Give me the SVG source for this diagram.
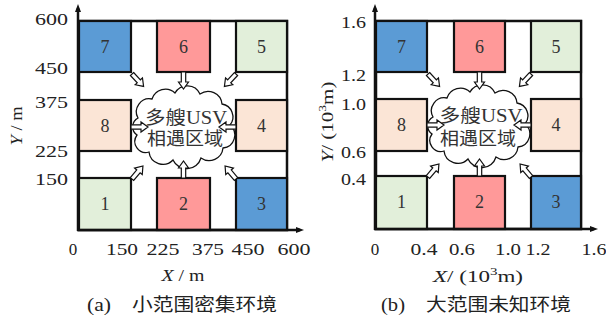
<svg xmlns="http://www.w3.org/2000/svg" xmlns:xlink="http://www.w3.org/1999/xlink" width="606" height="320" viewBox="0 0 606 320">
<style>
.bx{stroke:#111;stroke-width:2.2}
.blue{fill:#5b9bd5}.pink{fill:#ff9999}.green{fill:#e2efda}.peach{fill:#fbe5d6}
.num{font-family:"Liberation Serif","Times New Roman",serif;font-size:18px;fill:#333;text-anchor:middle}
.tk{font-family:"Liberation Serif","Times New Roman",serif;font-size:17px;fill:#222}
.r{text-anchor:end}.m{text-anchor:middle}
.cap{font-family:"Liberation Serif","Noto Sans CJK SC",serif;font-size:18px;fill:#222}
.ct{font-family:"Liberation Serif","Noto Sans CJK SC",serif;font-size:18px;fill:#333;text-anchor:middle}
.ax{stroke:#111;stroke-width:2.5;fill:none}
.fr{fill:none;stroke:#111;stroke-width:2.5}
.cl{fill:#fff;stroke:#111;stroke-width:1.3}
.ar{fill:#fff;stroke:#111;stroke-width:1.2}
</style>
<defs>
<path id="arr" d="M0,-2.2 H10 V-5 L17,0 L10,5 V2.2 H0 Z"/>
<path id="cloud" d="M-45,-8 A13,13 0 0 1 -31,-27 A14,14 0 0 1 -8,-33 A14,14 0 0 1 17,-32 A14,14 0 0 1 39,-22 A13,13 0 0 1 47,-1 A13,13 0 0 1 40,22 A14,14 0 0 1 18,32 A15,15 0 0 1 -10,34 A14,14 0 0 1 -34,26 A11,11 0 0 1 -46,9 A10,10 0 0 1 -45,-8 Z"/>
<marker id="ah" markerWidth="8" markerHeight="8" refX="4" refY="4" orient="auto" markerUnits="userSpaceOnUse">
<path d="M0,1 L8,4 L0,7 Z" fill="#111"/>
</marker>
</defs>

<!-- Panel (a) -->
<g id="panel-a">
<rect class="fr" x="79" y="21" width="208" height="209"/>
<g id="a-box7"><rect class="bx blue" x="79" y="21" width="52" height="51"/><text class="num" x="105" y="53">7</text></g>
<g id="a-box6"><rect class="bx pink" x="157" y="21" width="53" height="51"/><text class="num" x="183.5" y="53">6</text></g>
<g id="a-box5"><rect class="bx green" x="236" y="21" width="51" height="51"/><text class="num" x="261.5" y="53">5</text></g>
<g id="a-box8"><rect class="bx peach" x="79" y="100" width="52" height="51"/><text class="num" x="105" y="132">8</text></g>
<g id="a-box4"><rect class="bx peach" x="236" y="100" width="51" height="51"/><text class="num" x="261.5" y="132">4</text></g>
<g id="a-box1"><rect class="bx green" x="79" y="178" width="52" height="52"/><text class="num" x="105" y="210">1</text></g>
<g id="a-box2"><rect class="bx pink" x="157" y="178" width="53" height="52"/><text class="num" x="183.5" y="210">2</text></g>
<g id="a-box3"><rect class="bx blue" x="236" y="178" width="51" height="52"/><text class="num" x="261.5" y="210">3</text></g>
<g id="a-cloud">
<use xlink:href="#cloud" class="cl" transform="translate(183,126)"/>
<text class="ct" x="186" y="124" textLength="82" lengthAdjust="spacingAndGlyphs">多艘USV</text>
<text class="ct" x="185" y="145" textLength="76" lengthAdjust="spacingAndGlyphs">相遇区域</text>
</g>
<g id="a-axes">
<line class="ax" x1="78" y1="231" x2="78" y2="8" marker-end="url(#ah)"/>
<line class="ax" x1="77" y1="230" x2="300" y2="230" marker-end="url(#ah)"/>
<text class="tk r" x="68" y="25" textLength="33" lengthAdjust="spacingAndGlyphs">600</text>
<text class="tk r" x="68" y="74" textLength="33" lengthAdjust="spacingAndGlyphs">450</text>
<text class="tk r" x="68" y="108" textLength="33" lengthAdjust="spacingAndGlyphs">375</text>
<text class="tk r" x="68" y="157" textLength="33" lengthAdjust="spacingAndGlyphs">225</text>
<text class="tk r" x="68" y="185" textLength="33" lengthAdjust="spacingAndGlyphs">150</text>
<text class="tk m" x="73" y="255">0</text>
<text class="tk m" x="122" y="255" textLength="32" lengthAdjust="spacingAndGlyphs">150</text>
<text class="tk m" x="163" y="255" textLength="33" lengthAdjust="spacingAndGlyphs">225</text>
<text class="tk m" x="208" y="255" textLength="32" lengthAdjust="spacingAndGlyphs">375</text>
<text class="tk m" x="248" y="255" textLength="33" lengthAdjust="spacingAndGlyphs">450</text>
<text class="tk m" x="294" y="255" textLength="33" lengthAdjust="spacingAndGlyphs">600</text>
<text class="tk m" x="183" y="281" font-size="18" textLength="43" lengthAdjust="spacingAndGlyphs"><tspan font-style="italic">X</tspan> / m</text>
<text class="tk m" font-size="18" transform="translate(22,126) rotate(-90)" textLength="39" lengthAdjust="spacingAndGlyphs"><tspan font-style="italic">Y</tspan> / m</text>
</g>
<text class="cap" x="87" y="311" textLength="24" lengthAdjust="spacingAndGlyphs">(a)</text>
<text class="cap" x="132" y="311" textLength="145" lengthAdjust="spacingAndGlyphs">小范围密集环境</text>
</g>

<!-- Panel (b) -->
<g id="panel-b">
<rect class="fr" x="376" y="21" width="205" height="208"/>
<g id="b-box7"><rect class="bx blue" x="376" y="21" width="51" height="51"/><text class="num" x="401.5" y="53">7</text></g>
<g id="b-box6"><rect class="bx pink" x="454" y="21" width="51" height="51"/><text class="num" x="479.5" y="53">6</text></g>
<g id="b-box5"><rect class="bx green" x="531" y="21" width="50" height="51"/><text class="num" x="556" y="53">5</text></g>
<g id="b-box8"><rect class="bx peach" x="376" y="99" width="51" height="52"/><text class="num" x="401.5" y="131">8</text></g>
<g id="b-box4"><rect class="bx peach" x="531" y="99" width="50" height="52"/><text class="num" x="556" y="131">4</text></g>
<g id="b-box1"><rect class="bx green" x="376" y="176" width="51" height="53"/><text class="num" x="401.5" y="208">1</text></g>
<g id="b-box2"><rect class="bx pink" x="454" y="176" width="51" height="53"/><text class="num" x="479.5" y="208">2</text></g>
<g id="b-box3"><rect class="bx blue" x="531" y="176" width="50" height="53"/><text class="num" x="556" y="208">3</text></g>
<g id="b-cloud">
<use xlink:href="#cloud" class="cl" transform="translate(478,125)"/>
<text class="ct" x="481" y="122" textLength="83" lengthAdjust="spacingAndGlyphs">多艘USV</text>
<text class="ct" x="478" y="145" textLength="76" lengthAdjust="spacingAndGlyphs">相遇区域</text>
</g>
<g id="b-axes">
<line class="ax" x1="375" y1="230" x2="375" y2="8" marker-end="url(#ah)"/>
<line class="ax" x1="374" y1="229" x2="594" y2="229" marker-end="url(#ah)"/>
<text class="tk r" x="366" y="28" textLength="25" lengthAdjust="spacingAndGlyphs">1.6</text>
<text class="tk r" x="366" y="81" textLength="25" lengthAdjust="spacingAndGlyphs">1.2</text>
<text class="tk r" x="366" y="110" textLength="25" lengthAdjust="spacingAndGlyphs">1.0</text>
<text class="tk r" x="366" y="158" textLength="25" lengthAdjust="spacingAndGlyphs">0.6</text>
<text class="tk r" x="366" y="185" textLength="25" lengthAdjust="spacingAndGlyphs">0.4</text>
<text class="tk m" x="375" y="255">0</text>
<text class="tk m" x="424" y="255" textLength="27" lengthAdjust="spacingAndGlyphs">0.4</text>
<text class="tk m" x="462" y="255" textLength="26" lengthAdjust="spacingAndGlyphs">0.6</text>
<text class="tk m" x="508" y="255" textLength="26" lengthAdjust="spacingAndGlyphs">1.0</text>
<text class="tk m" x="538" y="255" textLength="25" lengthAdjust="spacingAndGlyphs">1.2</text>
<text class="tk m" x="594" y="255" textLength="25" lengthAdjust="spacingAndGlyphs">1.6</text>
<text class="tk m" x="478" y="282" font-size="18" textLength="90" lengthAdjust="spacingAndGlyphs"><tspan font-style="italic">X</tspan>/ (10<tspan font-size="11" dy="-7">3</tspan><tspan dy="7">m)</tspan></text>
<text class="tk m" font-size="18" transform="translate(333,122) rotate(-90)" textLength="81" lengthAdjust="spacingAndGlyphs"><tspan font-style="italic">Y</tspan>/ (10<tspan font-size="11" dy="-7">3</tspan><tspan dy="7">m)</tspan></text>
</g>
<text class="cap" x="381" y="311" textLength="24" lengthAdjust="spacingAndGlyphs">(b)</text>
<text class="cap" x="426" y="311" textLength="145" lengthAdjust="spacingAndGlyphs">大范围未知环境</text>
</g>

<g id="connectors">
<use xlink:href="#arr" class="ar" transform="translate(132,74) rotate(47)"/>
<use xlink:href="#arr" class="ar" transform="translate(183.5,72) rotate(90)"/>
<use xlink:href="#arr" class="ar" transform="translate(236,74) rotate(133)"/>
<use xlink:href="#arr" class="ar" transform="translate(131,127) rotate(0)"/>
<use xlink:href="#arr" class="ar" transform="translate(236,127) rotate(180)"/>
<use xlink:href="#arr" class="ar" transform="translate(132,179) rotate(-50)"/>
<use xlink:href="#arr" class="ar" transform="translate(183.5,178) rotate(-90)"/>
<use xlink:href="#arr" class="ar" transform="translate(236,179) rotate(-130)"/>
<use xlink:href="#arr" class="ar" transform="translate(428,74) rotate(47)"/>
<use xlink:href="#arr" class="ar" transform="translate(479.5,72) rotate(90)"/>
<use xlink:href="#arr" class="ar" transform="translate(531,74) rotate(133)"/>
<use xlink:href="#arr" class="ar" transform="translate(427,125) rotate(0)"/>
<use xlink:href="#arr" class="ar" transform="translate(531,125) rotate(180)"/>
<use xlink:href="#arr" class="ar" transform="translate(428,177) rotate(-50)"/>
<use xlink:href="#arr" class="ar" transform="translate(479.5,176) rotate(-90)"/>
<use xlink:href="#arr" class="ar" transform="translate(531,177) rotate(-130)"/>
</g>
</svg>
